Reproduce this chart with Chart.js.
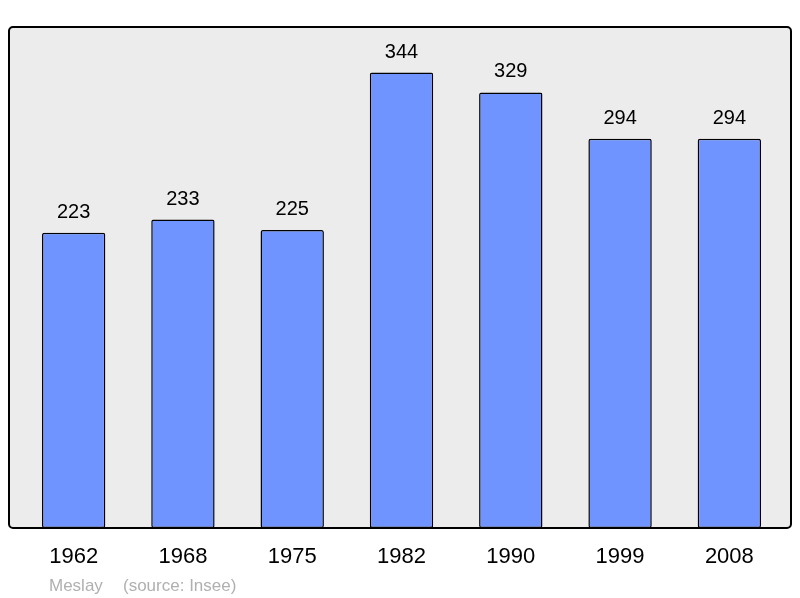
<!DOCTYPE html>
<html>
<head>
<meta charset="utf-8">
<script src="https://cdn.jsdelivr.net/npm/chart.js@4/dist/chart.umd.min.js"></script>
<style>
    html, body { margin: 0; padding: 0; background: #ffffff; }
    #wrap { width: 800px; height: 598px; }
</style>
</head>
<body>
<div id="wrap"><canvas id="popChart" width="800" height="598"></canvas></div>
<script>
const years = ["1962", "1968", "1975", "1982", "1990", "1999", "2008"];
const population = [223, 233, 225, 344, 329, 294, 294];
const townName = "Meslay";
const sourceText = "(source: Insee)";

const fontName = "'Liberation Sans', Arial, sans-serif";

// grey rounded frame behind the bars
function framePath(chart) {
    let a = chart.chartArea;
    chart.ctx.beginPath();
    chart.ctx.roundRect(a.left - 10, a.top, a.right - a.left + 17, a.bottom - a.top, 4);
}

const framePlugin = {
    id: "frame",
    beforeDraw(chart) {
        let ctx = chart.ctx;
        ctx.save();
        framePath(chart);
        ctx.fillStyle = "#ececec";
        ctx.fill();
        ctx.restore();
    },
    afterDatasetsDraw(chart) {
        let ctx = chart.ctx;
        ctx.save();
        framePath(chart);
        ctx.lineWidth = 2;
        ctx.strokeStyle = "#000000";
        ctx.stroke();
        ctx.restore();
    }
};

// values above bars + source line
const labelPlugin = {
    id: "labels",
    afterDraw(chart) {
        let ctx = chart.ctx;
        ctx.save();
        ctx.font = "20px " + fontName;
        ctx.fillStyle = "#000000";
        ctx.textAlign = "center";
        ctx.textBaseline = "alphabetic";
        chart.getDatasetMeta(0).data.forEach((bar, i) => {
            ctx.fillText(String(population[i]), bar.x, bar.y - 15);
        });
        ctx.font = "17px " + fontName;
        ctx.fillStyle = "#b0b0b0";
        ctx.textAlign = "left";
        ctx.fillText(townName, 49, 591);
        ctx.fillText(sourceText, 123, 591);
        ctx.restore();
    }
};

new Chart(document.getElementById("popChart"), {
    type: "bar",
    data: {
        labels: years,
        datasets: [{
            data: population,
            backgroundColor: "#7094ff",
            borderColor: "#000000",
            borderWidth: 1.5,
            borderSkipped: false,
            borderRadius: 2,
            barPercentage: 0.58,
            categoryPercentage: 1.0
        }]
    },
    options: {
        responsive: false,
        animation: false,
        devicePixelRatio: 1,
        layout: { padding: { left: 19, right: 16, top: 27, bottom: 30 } },
        plugins: {
            legend: { display: false },
            tooltip: { enabled: false }
        },
        scales: {
            x: {
                grid: { display: false, drawTicks: false },
                border: { display: false },
                ticks: {
                    color: "#000000",
                    font: { family: fontName, size: 22 },
                    padding: 16,
                    maxRotation: 0
                },
                afterFit(scale) { scale.height = 40; }
            },
            y: {
                display: false,
                min: 0,
                max: 378.4
            }
        }
    },
    plugins: [framePlugin, labelPlugin]
});
</script>
</body>
</html>
